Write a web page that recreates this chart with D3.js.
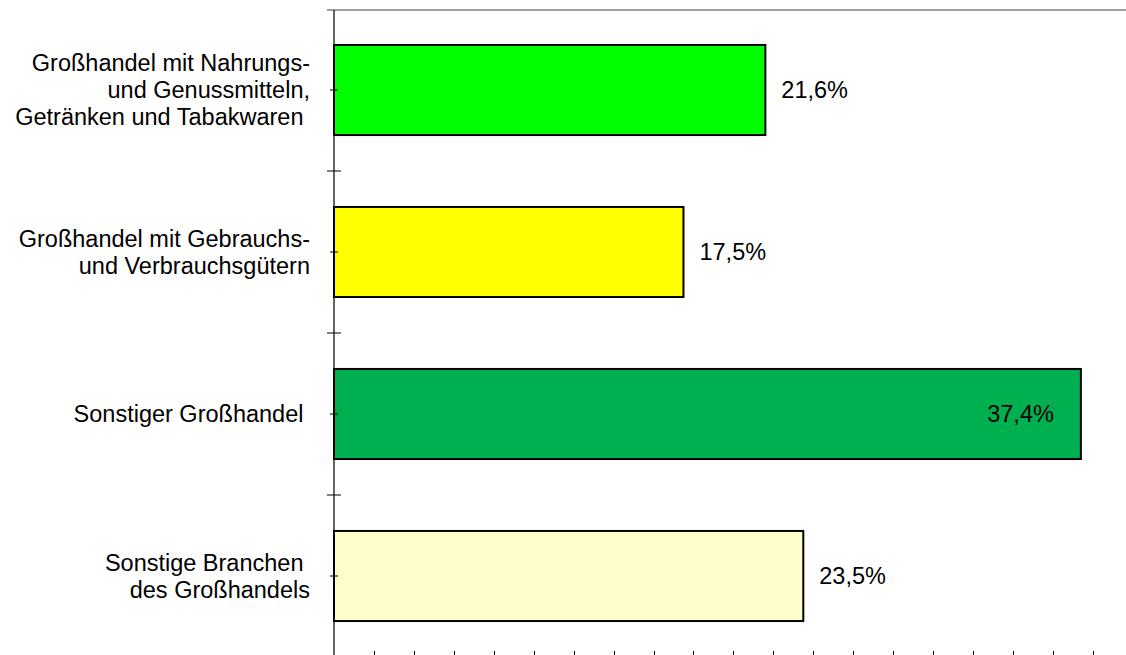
<!DOCTYPE html>
<html><head><meta charset="utf-8">
<script src="https://cdn.jsdelivr.net/npm/d3@7"></script>
<style>body{margin:0;background:#fff}svg{display:block}text{font-family:"Liberation Sans",Arial,sans-serif;white-space:pre}</style>
</head><body>
<svg id="c" width="1126" height="655"></svg>
<script>
const categories = [
  ["Großhandel mit Nahrungs-", "und Genussmitteln,", "Getränken und Tabakwaren "],
  ["Großhandel mit Gebrauchs-", "und Verbrauchsgütern"],
  ["Sonstiger Großhandel "],
  ["Sonstige Branchen ", "des Großhandels"]
];
const values = [21.6, 17.5, 37.4, 23.5];
const valueLabels = ["21,6%", "17,5%", "37,4%", "23,5%"];
const colors = ["#00FF00", "#FFFF00", "#00B050", "#FFFFCC"];
const xTicks = d3.range(0, 40, 2);

(function(){
const svg = d3.select("#c");
const x0 = 334, plotTop = 9, plotBottom = 657;
const fs = 23.5;
const x = d3.scaleLinear().domain([0, 40]).range([x0, x0 + 40 * 19.97]);
const y = d3.scaleBand().domain(d3.range(values.length)).range([plotTop, plotBottom]).paddingInner(0.444).paddingOuter(0.222);

// top gray line
svg.append("line").attr("x1", 327).attr("x2", 1126).attr("y1", 10).attr("y2", 10)
  .attr("stroke", "#808080").attr("stroke-width", 1.5);

// bars
svg.selectAll("rect.bar").data(values).join("rect").attr("class", "bar")
  .attr("x", x(0)).attr("y", (d, i) => y(i))
  .attr("width", d => x(d) - x(0)).attr("height", y.bandwidth())
  .attr("fill", (d, i) => colors[i]).attr("stroke", "#000").attr("stroke-width", 2);

// left axis
svg.append("line").attr("x1", x0).attr("x2", x0).attr("y1", 10).attr("y2", 655)
  .attr("stroke", "#000").attr("stroke-width", 1.2);
const step = y.step();
const bounds = d3.range(1, values.length).map(i => plotTop + i * step);
svg.selectAll("line.bt").data(bounds).join("line").attr("class", "bt")
  .attr("x1", 327).attr("x2", 341).attr("y1", d => d).attr("y2", d => d)
  .attr("stroke", "#000").attr("stroke-width", 1);
svg.selectAll("line.ct").data(values).join("line").attr("class", "ct")
  .attr("x1", 330).attr("x2", 338).attr("y1", (d, i) => y(i) + y.bandwidth() / 2).attr("y2", (d, i) => y(i) + y.bandwidth() / 2)
  .attr("stroke", "#000").attr("stroke-width", 1);

// bottom ticks
svg.selectAll("line.xt").data(xTicks.filter(d => d > 0)).join("line").attr("class", "xt")
  .attr("x1", d => Math.round(x(d)) + 0.5).attr("x2", d => Math.round(x(d)) + 0.5)
  .attr("y1", 651).attr("y2", 655).attr("stroke", "#000").attr("stroke-width", 1);

// category labels
const lh = 27;
categories.forEach((lines, i) => {
  const cy = y(i) + y.bandwidth() / 2;
  const t = svg.append("text").attr("text-anchor", "end").attr("font-size", fs).attr("fill", "#000");
  lines.forEach((ln, j) => {
    t.append("tspan").attr("x", 310).attr("y", cy + (j - (lines.length - 1) / 2) * lh).attr("dy", "0.35em").text(ln);
  });
});

// value labels
svg.selectAll("text.val").data(values).join("text").attr("class", "val")
  .attr("x", (d, i) => i === 2 ? x(d) - 27 : x(d) + 16)
  .attr("y", (d, i) => y(i) + y.bandwidth() / 2).attr("dy", "0.35em")
  .attr("text-anchor", (d, i) => i === 2 ? "end" : "start")
  .attr("font-size", fs).attr("fill", "#000")
  .text((d, i) => valueLabels[i]);
})();
</script>
</body></html>
